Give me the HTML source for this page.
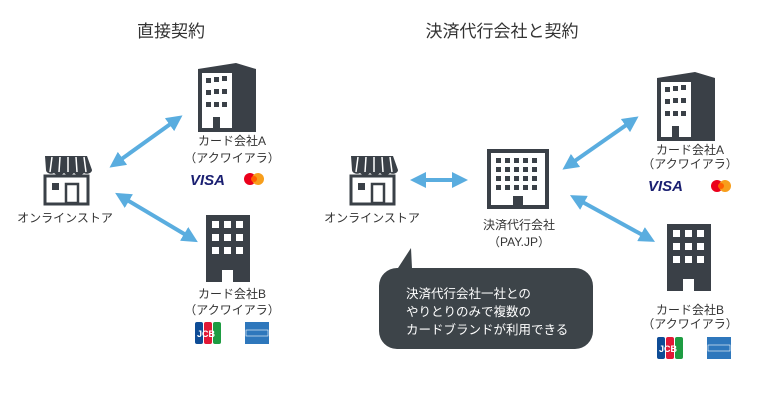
<!DOCTYPE html>
<html><head><meta charset="utf-8"><style>
html,body{margin:0;padding:0;background:#fff;}
svg{display:block;}
text{font-family:"Liberation Sans","Noto Sans CJK JP",sans-serif;}
</style></head><body>
<svg width="780" height="409" viewBox="0 0 780 409" xmlns="http://www.w3.org/2000/svg">
<defs>
<marker id="ah" markerWidth="4" markerHeight="4" refX="2" refY="2" orient="auto-start-reverse" markerUnits="strokeWidth">
<path d="M0,0 L4,2 L0,4 z" fill="#5aaddf"/></marker>
<g id="store">
<path d="M4,0 h42 l5,14 c0,3 -5,5 -8,3 c-3,3 -7,3 -10,0 c-3,3 -7,3 -10,0 c-3,3 -7,3 -10,0 c-3,2 -8,0 -8,-3 z" fill="#3a4047"/>
<path d="M11,1 l-2,15 M19,1 l-1,15 M27,1 v15 M35,1 l1,15 M43,1 l2,15" stroke="#fff" stroke-width="1.5"/>
<rect x="4" y="20" width="43" height="28" fill="none" stroke="#3a4047" stroke-width="3"/>
<rect x="11" y="27" width="7" height="7" fill="#3a4047"/>
<rect x="25" y="28" width="12" height="19" fill="none" stroke="#3a4047" stroke-width="2.5"/>
</g>
<g id="bld3d">
<path d="M0,6 L38,0 L58,6 V69 H0 z" fill="#3a4047"/>
<rect x="4" y="10" width="30" height="55" fill="#fff"/>
<g fill="#3a4047">
<rect x="8" y="15" width="5" height="5"/><rect x="16" y="14" width="5" height="5"/><rect x="24" y="13" width="5" height="5"/>
<rect x="8" y="27" width="5" height="5"/><rect x="16" y="26" width="5" height="5"/><rect x="24" y="26" width="5" height="5"/>
<rect x="8" y="39" width="5" height="5"/><rect x="16" y="39" width="5" height="5"/><rect x="24" y="39" width="5" height="5"/>
<rect x="15" y="54" width="7" height="12"/></g>
</g>
<g id="bldB">
<rect x="0" y="0" width="44" height="67" fill="#3a4047"/>
<g fill="#fff">
<rect x="6" y="6" width="7" height="7"/><rect x="18" y="6" width="7" height="7"/><rect x="30" y="6" width="7" height="7"/>
<rect x="6" y="19" width="7" height="7"/><rect x="18" y="19" width="7" height="7"/><rect x="30" y="19" width="7" height="7"/>
<rect x="6" y="32" width="7" height="7"/><rect x="18" y="32" width="7" height="7"/><rect x="30" y="32" width="7" height="7"/>
<rect x="16" y="55" width="11" height="12"/></g>
</g>
<g id="visa"><text x="0" y="0" font-size="15" font-weight="bold" font-style="italic" fill="#1a1f71">VISA</text></g>
<g id="mc"><circle cx="0" cy="0" r="6" fill="#eb001b"/><circle cx="8" cy="0" r="6" fill="#f79e1b"/><circle cx="4" cy="0" r="3" fill="#ff5f00"/></g>
<g id="jcb"><rect x="0" y="0" width="8" height="22" rx="2" fill="#0e4c96"/><rect x="9" y="0" width="8" height="22" rx="2" fill="#e21836"/><rect x="18" y="0" width="8" height="22" rx="2" fill="#1e9c42"/>
<text x="2" y="15" font-size="9" font-weight="bold" fill="#fff">JCB</text></g>
<g id="amex"><rect x="0" y="0" width="24" height="22" fill="#2e77bc"/><rect x="1" y="8" width="22" height="6" fill="none" stroke="#fff" stroke-width="0.6"/></g>
</defs>

<text x="171" y="37" font-size="17" text-anchor="middle" fill="#333">直接契約</text>
<text x="502" y="37" font-size="17" text-anchor="middle" fill="#333">決済代行会社と契約</text>

<!-- left -->
<use href="#store" x="41" y="156"/>
<text x="65" y="222" font-size="12" text-anchor="middle" fill="#333">オンラインストア</text>
<use href="#bld3d" x="198" y="63"/>
<text x="232" y="145" font-size="12" text-anchor="middle" fill="#333">カード会社A</text>
<text x="232" y="162" font-size="12" text-anchor="middle" fill="#333">（アクワイアラ）</text>
<use href="#visa" x="190" y="185"/>
<use href="#mc" x="250" y="179"/>
<use href="#bldB" x="206" y="215"/>
<text x="232" y="298" font-size="12" text-anchor="middle" fill="#333">カード会社B</text>
<text x="232" y="314" font-size="12" text-anchor="middle" fill="#333">（アクワイアラ）</text>
<use href="#jcb" x="195" y="322"/>
<use href="#amex" x="245" y="322"/>
<line x1="116" y1="163" x2="176" y2="120" stroke="#5aaddf" stroke-width="4" marker-start="url(#ah)" marker-end="url(#ah)"/>
<line x1="122" y1="197" x2="191" y2="238" stroke="#5aaddf" stroke-width="4" marker-start="url(#ah)" marker-end="url(#ah)"/>

<!-- right -->
<use href="#store" x="347" y="156"/>
<text x="372" y="222" font-size="12" text-anchor="middle" fill="#333">オンラインストア</text>
<line x1="418" y1="180" x2="460" y2="180" stroke="#5aaddf" stroke-width="4" marker-start="url(#ah)" marker-end="url(#ah)"/>
<rect x="487" y="149" width="62" height="60" fill="#3a4047"/>
<rect x="491" y="153" width="54" height="52" fill="#fff"/>
<g fill="#3a4047">
<rect x="496" y="158" width="5" height="5"/><rect x="505" y="158" width="5" height="5"/><rect x="514" y="158" width="5" height="5"/><rect x="523" y="158" width="5" height="5"/><rect x="532" y="158" width="5" height="5"/>
<rect x="496" y="167" width="5" height="5"/><rect x="505" y="167" width="5" height="5"/><rect x="514" y="167" width="5" height="5"/><rect x="523" y="167" width="5" height="5"/><rect x="532" y="167" width="5" height="5"/>
<rect x="496" y="176" width="5" height="5"/><rect x="505" y="176" width="5" height="5"/><rect x="514" y="176" width="5" height="5"/><rect x="523" y="176" width="5" height="5"/><rect x="532" y="176" width="5" height="5"/>
<rect x="496" y="185" width="5" height="5"/><rect x="505" y="185" width="5" height="5"/><rect x="514" y="185" width="5" height="5"/><rect x="523" y="185" width="5" height="5"/><rect x="532" y="185" width="5" height="5"/>
<rect x="513" y="196" width="10" height="10"/></g>
<text x="519" y="229" font-size="12" text-anchor="middle" fill="#333">決済代行会社</text>
<text x="519" y="246" font-size="12" text-anchor="middle" fill="#333">（PAY.JP）</text>
<use href="#bld3d" x="657" y="72"/>
<text x="690" y="154" font-size="12" text-anchor="middle" fill="#333">カード会社A</text>
<text x="690" y="168" font-size="12" text-anchor="middle" fill="#333">（アクワイアラ）</text>
<use href="#visa" x="648" y="191"/>
<use href="#mc" x="717" y="186"/>
<use href="#bldB" x="667" y="224"/>
<text x="690" y="314" font-size="12" text-anchor="middle" fill="#333">カード会社B</text>
<text x="690" y="328" font-size="12" text-anchor="middle" fill="#333">（アクワイアラ）</text>
<use href="#jcb" x="657" y="337"/>
<use href="#amex" x="707" y="337"/>
<line x1="569" y1="165" x2="632" y2="121" stroke="#5aaddf" stroke-width="4" marker-start="url(#ah)" marker-end="url(#ah)"/>
<line x1="577" y1="199" x2="648" y2="238" stroke="#5aaddf" stroke-width="4" marker-start="url(#ah)" marker-end="url(#ah)"/>

<path d="M398,268 L411,248 L412,268 H575 a18,18 0 0 1 18,18 V331 a18,18 0 0 1 -18,18 H397 a18,18 0 0 1 -18,-18 V286 a18,18 0 0 1 18,-18 z" fill="#3d4449"/>
<text x="406" y="298" font-size="12.5" fill="#fff">決済代行会社一社との</text>
<text x="406" y="316" font-size="12.5" fill="#fff">やりとりのみで複数の</text>
<text x="406" y="334" font-size="12.5" fill="#fff">カードブランドが利用できる</text>
</svg>
</body></html>
